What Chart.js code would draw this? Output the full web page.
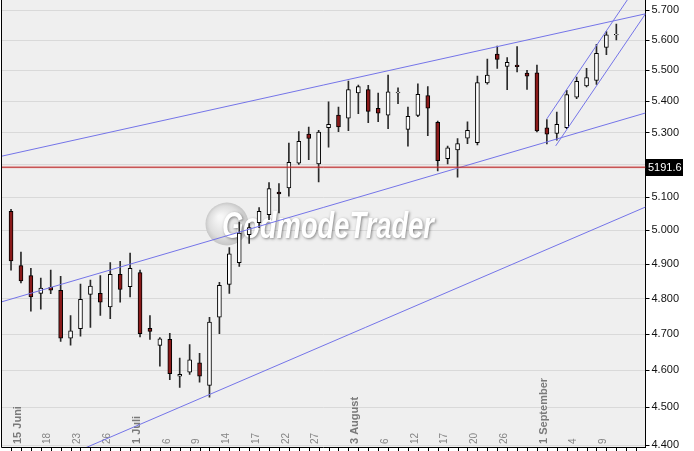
<!DOCTYPE html>
<html>
<head>
<meta charset="utf-8">
<script src="https://cdn.jsdelivr.net/npm/chart.js@4.4.0/dist/chart.umd.min.js"></script>
<style>html,body{margin:0;padding:0;background:#fff;overflow:hidden}</style>
</head>
<body>
<canvas id="c" width="694" height="451"></canvas>
<script>
// daily candles, index 0 = first bar (12 Juni)
const opens  = [5057,4896,4867,4816,4833,4825,4689,4716,4813,4816,4777,4871,4835,4876,4717,4669,4686,4584,4595,4621,4559,4748,4842,4905,4987,5023,5047,5115,5128,5204,5295,5202,5315,5355,5345,5426,5437,5377,5355,5426,5310,5354,5418,5332,5218,5245,5282,5268,5459,5553,5513,5517,5491,5492,5315,5297,5315,5413,5449,5467,5575,5617];
const highs  = [5063,4936,4888,4860,4883,4865,4753,4843,4854,4867,4905,4909,4933,4883,4753,4691,4703,4634,4671,4647,4748,4848,4949,5025,5020,5068,5144,5141,5267,5303,5317,5307,5398,5381,5465,5452,5451,5426,5484,5443,5381,5456,5447,5336,5257,5281,5334,5481,5537,5580,5542,5578,5500,5517,5341,5365,5435,5478,5506,5586,5628,5653];
const lows   = [4883,4846,4765,4771,4815,4680,4670,4695,4719,4753,4744,4791,4806,4693,4686,4612,4575,4554,4589,4568,4527,4702,4816,4894,4961,5008,5032,5052,5103,5200,5215,5146,5254,5303,5306,5360,5331,5334,5312,5392,5257,5350,5290,5180,5202,5161,5265,5261,5455,5506,5437,5495,5438,5302,5264,5276,5312,5408,5446,5454,5551,5600];
const closes = [4910,4852,4806,4831,4825,4689,4710,4799,4837,4791,4871,4827,4888,4702,4708,4687,4591,4589,4629,4584,4734,4839,4931,4992,5008,5057,5126,5110,5207,5272,5281,5301,5326,5318,5437,5447,5367,5361,5430,5429,5351,5422,5377,5212,5252,5265,5307,5460,5484,5536,5526,5512,5481,5305,5295,5326,5421,5464,5476,5556,5617,5619];

// date labels along the bottom (bar index -> text)
const tickIdx  = [1,4,7,10,13,16,19,22,25,28,31,35,38,41,44,47,50,54,57,60];
const tickText = ['15 Juni','18','23','26','1 Juli','6','9','14','17','22','27','3 August','6','12','17','20','26','1 September','4','9'];
const monthTicks = ['15 Juni','1 Juli','3 August','1 September'];

const yTicks = [4400,4500,4600,4700,4800,4900,5000,5100,5200,5300,5400,5500,5600,5700];
const yMin = 4395, yMax = 5735;
const xMin = -0.91, xMax = 63.94;

const lastPrice = 5191.6;

// drawn trend lines: [bar index, price] end points
const channelTop    = [[-0.91,5226],[63.94,5688]];
const channelBottom = [[-0.91,4792],[63.94,5362]];
const supportLow    = [[-0.91,4300],[63.94,5070]];
const steepTop      = [[53.99,5343],[62.78,5769]];
const steepBottom   = [[54.89,5258],[63.94,5688]];

const RED = '#8b1a1a';

function fmt(v){
  return Math.floor(v/1000) + '.' + String(Math.round(v)%1000).padStart(3,'0');
}

const bodies = opens.map((o,i)=>({x:i, y:[o, closes[i]]}));
const wicks  = highs.map((h,i)=>({x:i, y:[lows[i], h]}));

function trend(pts){
  return {
    type:'line', data: pts.map(p=>({x:p[0], y:p[1]})),
    borderColor:'#7474e8', borderWidth:1, pointRadius:0, order:-1
  };
}

const deco = {
  id:'deco',
  beforeDraw(chart){
    const {ctx, chartArea:a} = chart;
    ctx.save();
    ctx.fillStyle = '#fff';
    ctx.fillRect(0,0,chart.width,chart.height);
    ctx.fillStyle = '#efefef';
    ctx.fillRect(a.left,a.top,a.right-a.left,a.bottom-a.top);
    ctx.restore();
  },
  beforeDatasetsDraw(chart){
    const {ctx} = chart;
    const xs = chart.scales.x;
    // watermark
    ctx.save();
    ctx.beginPath();
    ctx.arc(227,224,21.5,0,Math.PI*2);
    const g = ctx.createRadialGradient(220,217,2,227,224,22);
    g.addColorStop(0,'#f7f7f7');
    g.addColorStop(0.7,'#dedede');
    g.addColorStop(1,'#c4c4c4');
    ctx.fillStyle = g;
    ctx.fill();
    ctx.font = 'italic bold 36px "Liberation Sans"';
    const w = ctx.measureText('GodmodeTrader').width;
    ctx.translate(222,238);
    ctx.scale(212/w,1);
    ctx.shadowColor = 'rgba(0,0,0,0.45)';
    ctx.shadowOffsetX = 1; ctx.shadowOffsetY = 1; ctx.shadowBlur = 3;
    ctx.fillStyle = '#ffffff';
    ctx.fillText('GodmodeTrader',0,0);
    ctx.restore();

    // rotated date labels inside the plot
    ctx.save();
    ctx.textBaseline = 'middle';
    ctx.textAlign = 'left';
    tickIdx.forEach((idx,k)=>{
      const t = tickText[k];
      const bold = monthTicks.includes(t);
      ctx.font = bold ? 'bold 11px "Liberation Sans"' : '10px "Liberation Sans"';
      ctx.fillStyle = bold ? '#7a7a7a' : '#858585';
      ctx.save();
      ctx.translate(xs.getPixelForValue(idx) - 3, 444);
      ctx.rotate(-Math.PI/2);
      ctx.fillText(t,0,0);
      ctx.restore();
    });
    ctx.restore();
  },
  afterDraw(chart){
    const {ctx, chartArea:a} = chart;
    const xs = chart.scales.x, ys = chart.scales.y;
    ctx.save();
    ctx.strokeStyle = '#000';
    ctx.lineWidth = 1;
    ctx.beginPath();
    ctx.moveTo(1.5,0); ctx.lineTo(1.5,a.bottom+0.5);
    ctx.lineTo(a.right,a.bottom+0.5);
    ctx.stroke();
    ctx.beginPath();
    for(let i=0;i<=63;i++){
      const x = Math.round(xs.getPixelForValue(i))+0.5;
      ctx.moveTo(x,a.bottom); ctx.lineTo(x,a.bottom+4);
    }
    ctx.stroke();
    // last price box
    const py = ys.getPixelForValue(lastPrice);
    ctx.fillStyle = '#000';
    ctx.fillRect(646, Math.round(py)-8, 37, 17);
    ctx.fillStyle = '#fff';
    ctx.font = '11px "Liberation Sans"';
    ctx.textBaseline = 'middle';
    ctx.fillText(lastPrice.toFixed(1), 648, Math.round(py)+0.5);
    ctx.restore();
  }
};

new Chart(document.getElementById('c'), {
  type:'bar',
  data:{
    datasets:[
      {type:'line', data:[{x:xMin,y:lastPrice},{x:xMax,y:lastPrice}], borderColor:'rgba(230,150,150,0.25)', borderWidth:3, pointRadius:0, order:-1},
      {type:'line', data:[{x:xMin,y:lastPrice},{x:xMax,y:lastPrice}], borderColor:'#b81c1c', borderWidth:1, pointRadius:0, order:-2},
      trend(channelTop), trend(channelBottom), trend(supportLow), trend(steepTop), trend(steepBottom),
      {data:bodies, grouped:false, barThickness:4, borderWidth:1, borderColor:'#000', borderSkipped:false,
       backgroundColor: opens.map((o,i)=> closes[i] < o ? RED : '#fff'), order:0},
      {data:wicks, grouped:false, barThickness:1, borderWidth:0, backgroundColor:'#2a2a2a', order:1}
    ]
  },
  options:{
    responsive:false, animation:false,
    layout:{padding:{left:2, top:0, right:0, bottom:4}},
    plugins:{legend:{display:false}, tooltip:{enabled:false}},
    scales:{
      x:{type:'linear', min:xMin, max:xMax, offset:false, display:false},
      y:{
        type:'logarithmic', position:'right', min:yMin, max:yMax,
        afterBuildTicks: s => { s.ticks = yTicks.map(v=>({value:v})); },
        afterFit: s => { s.width = 48.5; s.paddingTop = 0; s.paddingBottom = 0; },
        ticks:{callback: v => fmt(v), color:'#111', font:{family:'Liberation Sans', size:11}, padding:2, autoSkip:false},
        grid:{color:'#d9d9d9', tickColor:'#000', tickLength:4},
        border:{color:'#000', width:1}
      }
    }
  },
  plugins:[deco]
});
</script>
</body>
</html>
